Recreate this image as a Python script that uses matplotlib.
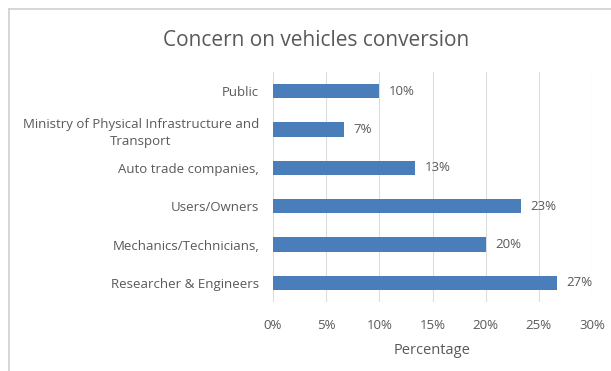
import matplotlib.pyplot as plt
from matplotlib.lines import Line2D
from matplotlib.ticker import FuncFormatter, MultipleLocator

categories = [
    "Researcher & Engineers",
    "Mechanics/Technicians,",
    "Users/Owners",
    "Auto trade companies,",
    "Ministry of Physical Infrastructure and\nTransport",
    "Public",
]
shares = [26.67, 20.0, 23.33, 13.33, 6.67, 10.0]

BAR_COLOR = "#4a7ebb"
TEXT_COLOR = "#595959"
GRID_COLOR = "#dcdcdc"

plt.rcParams["font.family"] = ["Open Sans", "DejaVu Sans"]

fig = plt.figure(figsize=(6.11, 3.71), dpi=100)
ax = fig.add_axes([273 / 611, 1 - 302 / 371, 319 / 611, 230 / 371])

ypos = range(len(categories))
ax.barh(ypos, shares, height=0.37, color=BAR_COLOR, zorder=3)
for y, v in zip(ypos, shares):
    ax.text(v + 0.9, y, f"{v:.0f}%", va="center", ha="left",
            fontsize=9.5, color=TEXT_COLOR)

ax.set_xlim(0, 30)
ax.set_ylim(-0.5, len(categories) - 0.5)
ax.xaxis.set_major_locator(MultipleLocator(5))
ax.xaxis.set_major_formatter(FuncFormatter(lambda x, _: f"{x:.0f}%"))
ax.set_yticks(list(ypos))
ax.set_yticklabels(categories, fontsize=9.5, color=TEXT_COLOR,
                   multialignment="center", linespacing=1.35)
ax.tick_params(axis="x", length=0, pad=12, labelsize=9.5, labelcolor=TEXT_COLOR)
ax.tick_params(axis="y", length=0, pad=10)
ax.grid(axis="x", color=GRID_COLOR, linewidth=0.8, zorder=0)
for s in ax.spines.values():
    s.set_visible(False)

ax.set_xlabel("Percentage", fontsize=10.5, color=TEXT_COLOR, labelpad=8)
fig.text(316 / 611, 1 - 41 / 371, "Concern on vehicles conversion",
         ha="center", va="center", fontsize=15, color=TEXT_COLOR)

# light frame along the top and left edges
fig.add_artist(Line2D([9 / 611, 1], [1 - 9 / 371, 1 - 9 / 371],
                      transform=fig.transFigure, color="#d0d0d0", linewidth=1.2))
fig.add_artist(Line2D([9 / 611, 9 / 611], [0, 1 - 9 / 371],
                      transform=fig.transFigure, color="#d0d0d0", linewidth=1.2))

fig.savefig("out.png", dpi=100)
